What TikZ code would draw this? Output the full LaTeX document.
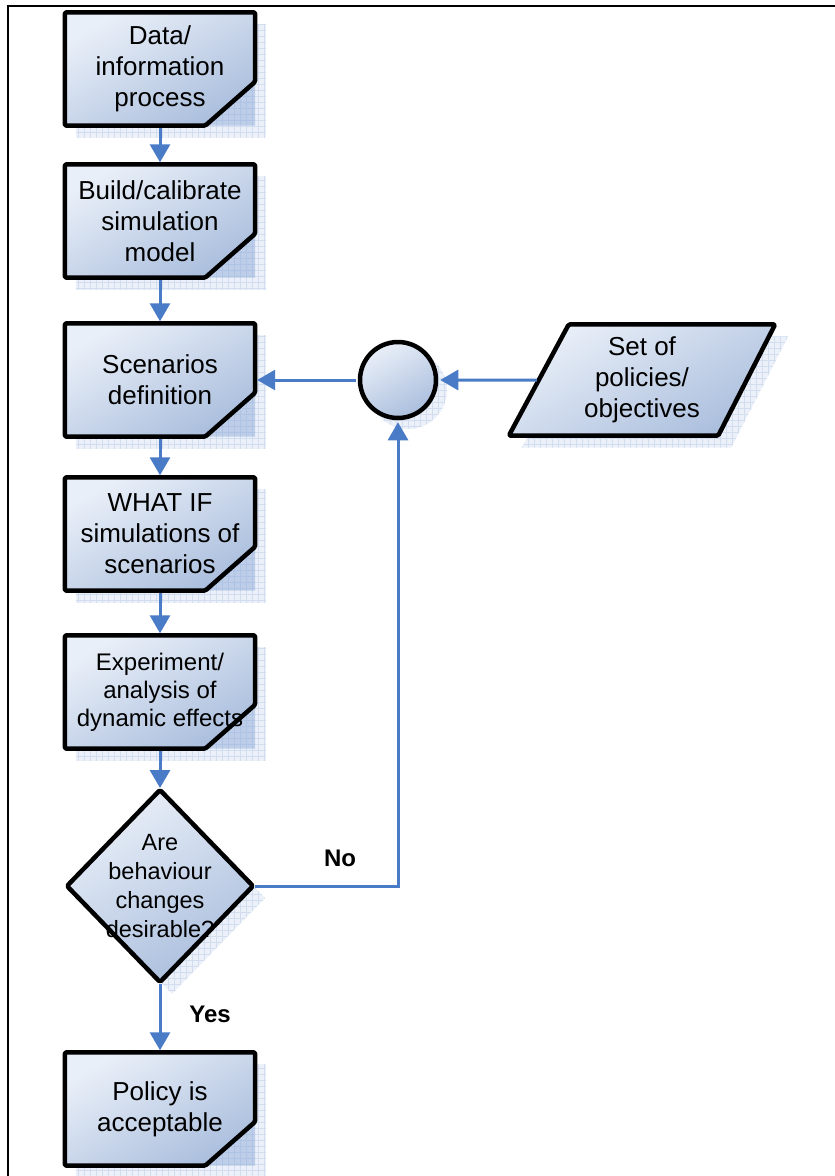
\documentclass[tikz,border=0pt]{standalone}
\usepackage{fontspec}
\setmainfont{Liberation Sans}
\usetikzlibrary{arrows.meta,calc}

\pgfdeclarelayer{shadowlayer}
\pgfdeclarelayer{shapelayer}
\pgfsetlayers{shadowlayer,shapelayer,main}

\definecolor{flowblue}{HTML}{4A7BC6}
\definecolor{shapelight}{HTML}{E9EFF8}
\definecolor{shapedark}{HTML}{AABEDD}
\definecolor{shadowfill}{HTML}{EBF0F9}
\definecolor{shadowgrid}{HTML}{D2DEF0}
\definecolor{foldblue}{HTML}{7C9CD2}

\tikzset{
  x=1pt, y=-1pt,
  outline/.style={draw=black, line width=4.5pt, line join=round,
    rounded corners=1.5pt, top color=shapelight, bottom color=shapedark,
    shading angle=30},
  procnode/.style={rectangle, minimum width=190pt, minimum height=113pt,
    inner sep=0pt, align=center, font=\fontsize{26}{31}\selectfont},
  smalltext/.style={font=\fontsize{24}{28}\selectfont},
  flow/.style={draw=flowblue, line width=3pt,
    -{Triangle[length=18pt,width=20pt]}, shorten >=2pt, shorten <=2pt},
  answer/.style={fill=white, inner xsep=12pt, inner ysep=4pt,
    font=\fontsize{24}{28}\selectfont\bfseries},
  frameline/.style={draw=black, line width=2pt},
}

% pale blue grid-paper shadow: #1 = closed path, #2/#3 = grid extent
\newcommand\gridshadow[3]{%
  \begin{pgfonlayer}{shadowlayer}
    \fill[shadowfill] #1;
    \begin{scope}
      \clip #1;
      \draw[shadowgrid, line width=0.5pt, step=6pt] #2 grid #3;
    \end{scope}
  \end{pgfonlayer}}

% process box with folded bottom-right corner
\newcommand\procbox[5][]{% [extra node style] name, x, y, text
  \node[procnode,#1] (#2) at (#3,#4) {#5};
  \gridshadow{([shift={(11pt,-12pt)}]#2.north west) rectangle ([shift={(11pt,-12pt)}]#2.south east)}%
    {(#2.north west)}{([shift={(16pt,-16pt)}]#2.south east)}
  \begin{pgfonlayer}{shapelayer}
    \fill[foldblue, opacity=0.4] ([yshift=44pt]#2.south east) -- (#2.south east)
      -- ([xshift=-50pt]#2.south east) -- cycle;
    \path[outline] (#2.north west) -- (#2.north east)
      -- ([yshift=44pt]#2.south east) -- ([xshift=-50pt]#2.south east)
      -- (#2.south west) -- cycle;
  \end{pgfonlayer}}

\begin{document}
\begin{tikzpicture}
\useasboundingbox (0,0) rectangle (835,1176);

% page frame
\draw[frameline] (8,1176) -- (8,6) -- (835,6);

% main column of process boxes
\procbox{data}{160}{69}{Data/\\information\\process}
\procbox{build}{160}{221}{Build/calibrate\\simulation\\model}
\procbox{scen}{160}{380}{Scenarios\\definition}
\procbox{whatif}{160}{534}{WHAT IF\\simulations of\\scenarios}
\procbox[smalltext]{exper}{160}{692}{Experiment/\\analysis of\\dynamic effects}
\procbox{accept}{160}{1109}{Policy is\\acceptable}

% decision diamond
\node[inner sep=0pt, align=center, font=\fontsize{23.5}{29}\selectfont]
  (dec) at (160,886) {Are\\behaviour\\changes\\desirable?};
\coordinate (dec-n) at ($(dec.center)+(0,-96)$);
\coordinate (dec-e) at ($(dec.center)+(93,0)$);
\coordinate (dec-s) at ($(dec.center)+(0,96)$);
\coordinate (dec-w) at ($(dec.center)+(-93,0)$);
\gridshadow{([shift={(12pt,-12pt)}]dec-n) -- ([shift={(12pt,-12pt)}]dec-e) -- ([shift={(12pt,-12pt)}]dec-s) -- ([shift={(12pt,-12pt)}]dec-w) -- cycle}%
  {(60,780)}{(280,1000)}
\begin{pgfonlayer}{shapelayer}
  \path[outline] (dec-n) -- (dec-e) -- (dec-s) -- (dec-w) -- cycle;
\end{pgfonlayer}

% merging circle
\node[circle, outline, minimum size=76pt, inner sep=0pt] (merge) at (398,380) {};
\gridshadow{([shift={(10pt,-10pt)}]merge.center) circle[radius=39pt]}{(350,330)}{(460,440)}

% input parallelogram
\node[rectangle, minimum width=266pt, minimum height=111pt, inner sep=0pt,
  align=center, font=\fontsize{26}{31}\selectfont] (pol) at (642,380)
  {Set of\\policies/\\objectives};
\gridshadow{([shift={(73pt,-12pt)}]pol.north west) -- ([shift={(13pt,-12pt)}]pol.north east)
  -- ([shift={(-44pt,-12pt)}]pol.south east) -- ([shift={(13pt,-12pt)}]pol.south west) -- cycle}%
  {(500,320)}{(800,460)}
\begin{pgfonlayer}{shapelayer}
  \path[outline] ([xshift=60pt]pol.north west) -- (pol.north east)
    -- ([xshift=-57pt]pol.south east) -- (pol.south west) -- cycle;
\end{pgfonlayer}
\coordinate (pol-in) at ($(pol.south west)!0.5!([xshift=60pt]pol.north west)$);

% connectors
\draw[flow] (data) -- (build);
\draw[flow] (build) -- (scen);
\draw[flow] (scen) -- (whatif);
\draw[flow] (whatif) -- (exper);
\draw[flow] (exper) -- (dec-n);
\draw[flow] (dec-s) -- (accept);
\draw[flow] (pol-in) -- (merge);
\draw[flow] (merge) -- (scen);
\draw[flow] (dec-e) -| (merge);

% branch labels
\node[answer] (no) at (340,858) {No};
\node[answer] (yes) at (210,1014) {Yes};
\end{tikzpicture}
\end{document}
